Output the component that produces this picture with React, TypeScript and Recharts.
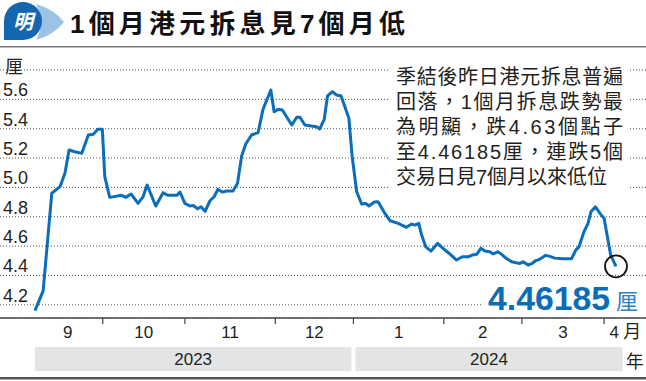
import { LineChart, Line, XAxis, YAxis, CartesianGrid, ReferenceDot } from 'recharts';

// trading-day position (0 = first fixing shown) and 1-month HIBOR (%)
const dayPos = [
  0, 2, 4.1, 6.1, 7.3, 8.3, 9.7, 11.4, 13, 14.2,
  15.3, 16.4, 17, 18.2, 21.1, 22.1, 23.4, 25.1, 26.3, 27.3,
  29.4, 31.2, 32.3, 34.5, 35.3, 36.5, 37.7, 38.5, 39.6, 40.4,
  41.4, 42.6, 43.6, 44.5, 45.6, 46.6, 48.2, 49.3, 50.3, 51.3,
  52.7, 54.3, 55.5, 57.4, 58.2, 59.2, 60.2, 62.5, 63.7, 64.5,
  65.7, 67.3, 68.5, 69.3, 70.4, 71.2, 72.4, 73.4, 74.5, 76.4,
  77.2, 78.3, 79.5, 80.5, 81.3, 82.6, 83.5, 85, 86.4, 88.4,
  90.4, 91.7, 92.5, 93.4, 94.1, 95.1, 96.4, 98, 99.3, 101,
  102.6, 104, 105.4, 106.4, 107.5, 108.5, 109.5, 110.7, 111.5, 112.6,
  113.5, 114.4, 116, 118, 118.8, 120, 120.9, 121.8, 122.5, 123.1,
  124.3, 125.3, 126.5, 128.5, 130.6, 131.6, 132.4, 133.6, 134.6, 135.3,
  136.4, 137.5, 138.5, 140.1, 141.4,
];
const hibor = [
  4.16, 4.295, 4.96, 5.005, 5.096, 5.255, 5.243, 5.232, 5.357, 5.362,
  5.396, 5.396, 5.073, 4.932, 4.946, 4.932, 4.955, 4.891, 4.936, 5.016,
  4.873, 4.964, 4.946, 4.946, 4.968, 4.891, 4.873, 4.876, 4.855, 4.868,
  4.837, 4.909, 4.936, 4.987, 4.968, 4.975, 4.975, 5.028, 5.214, 5.296,
  5.357, 5.373, 5.532, 5.664, 5.516, 5.532, 5.527, 5.425, 5.478, 5.478,
  5.425, 5.418, 5.414, 5.398, 5.464, 5.623, 5.652, 5.63, 5.623, 5.471,
  5.209, 4.97, 4.887, 4.891, 4.873, 4.9, 4.902, 4.83, 4.773, 4.755,
  4.728, 4.75, 4.743, 4.755, 4.675, 4.595, 4.566, 4.619, 4.585, 4.546,
  4.505, 4.527, 4.527, 4.539, 4.544, 4.585, 4.566, 4.561, 4.546, 4.561,
  4.546, 4.523, 4.493, 4.482, 4.493, 4.471, 4.48, 4.5, 4.506, 4.516,
  4.537, 4.53, 4.518, 4.514, 4.514, 4.573, 4.595, 4.698, 4.755, 4.834,
  4.868, 4.823, 4.789, 4.539, 4.46185,
];

const monthLabels = ['9', '10', '11', '12', '1', '2', '3', '4'];
const monthDays = [17, 20, 22, 19, 22, 19, 20, 5];
const yearLabels = ['2023', '2024'];
const yearMonthCount = [4, 4];
const yTicks = [4.2, 4.4, 4.6, 4.8, 5.0, 5.2, 5.4, 5.6];

const title = '1個月港元拆息見7個月低';
const noteLines = [
  '季結後昨日港元拆息普遍',
  '回落，1個月拆息跌勢最',
  '為明顯，跌4.63個點子',
  '至4.46185厘，連跌5個',
  '交易日見7個月以來低位',
];
const latestLabel = '4.46185';

const W = 646;
const H = 381;
const BLUE = '#0a6ebd';
const INK = '#231f20';
const FONT = '"Liberation Sans", Arial, "Noto Sans CJK TC", sans-serif';
const X_DOMAIN: [number, number] = [-8.5, 148.7];
const Y_DOMAIN: [number, number] = [4.11, 5.8];
const PX_PER_DAY = W / (X_DOMAIN[1] - X_DOMAIN[0]);

const data = dayPos.map((d, i) => ({ day: d, rate: hibor[i] }));

const monthStart = monthDays.reduce<number[]>((acc, n) => {
  acc.push(acc[acc.length - 1] + n);
  return acc;
}, [-0.5]);
const boundaryTicks = monthStart.slice(1, monthLabels.length);
const monthMid = monthLabels.map((_, i) => (monthStart[i] + monthStart[i + 1]) / 2);
const yearSpans = yearLabels.map((_, i) => {
  const m0 = yearMonthCount.slice(0, i).reduce((a, b) => a + b, 0);
  return [monthStart[m0], monthStart[m0 + yearMonthCount[i]]];
});
const yearMid = yearSpans.map(([a, b]) => (a + b) / 2);

const tickInfo = new Map<number, { kind: string; i: number }>();
boundaryTicks.forEach((v, i) => tickInfo.set(v, { kind: 'edge', i }));
monthMid.forEach((v, i) => tickInfo.set(v, { kind: 'month', i }));
yearMid.forEach((v, i) => tickInfo.set(v, { kind: 'year', i }));
const xTicks = [...boundaryTicks, ...monthMid, ...yearMid];

const XTick = (props: any) => {
  const { x, y, payload } = props;
  const info = tickInfo.get(payload.value);
  if (!info) return null;
  if (info.kind === 'edge') {
    return <line x1={x} x2={x} y1={y} y2={y + 6} stroke="#444" strokeWidth={1.2} />;
  }
  if (info.kind === 'month') {
    const last = info.i === monthLabels.length - 1;
    return (
      <g fontFamily={FONT} fontSize={17} fill={INK}>
        <text x={x} y={y + 20} textAnchor="middle">{monthLabels[info.i]}</text>
        {last && <text x={x + 9} y={y + 20} fontSize={18}>月</text>}
      </g>
    );
  }
  const [a, b] = yearSpans[info.i];
  const w = (b - a) * PX_PER_DAY - 4;
  const last = info.i === yearLabels.length - 1;
  return (
    <g fontFamily={FONT} fill={INK}>
      <rect x={x - w / 2} y={y + 29} width={w} height={24} fill="#e3e4e6" />
      <text x={x} y={y + 47} textAnchor="middle" fontSize={17}>{yearLabels[info.i]}</text>
      {last && <text x={x + w / 2 + 3} y={y + 50} fontSize={18}>年</text>}
    </g>
  );
};

const YTick = (props: any) => {
  const { x, y, payload } = props;
  return (
    <text x={x + 3} y={y - 3} fontFamily={FONT} fontSize={18} fill={INK} textAnchor="start">
      {Number(payload.value).toFixed(1)}
    </text>
  );
};

export default function App() {
  return (
    <div style={{ position: 'absolute', left: 0, top: 0, width: W, height: H, background: '#fff' }}>
      <LineChart width={W} height={H} data={data} margin={{ top: 70, right: 0, bottom: 0, left: 0 }}>
        <CartesianGrid vertical={false} stroke="#555" strokeDasharray="1 2" />
        <XAxis
          dataKey="day"
          type="number"
          domain={X_DOMAIN}
          allowDataOverflow
          ticks={xTicks}
          interval={0}
          tickSize={0}
          tickMargin={0}
          tickLine={false}
          axisLine={{ stroke: '#4a4a4a', strokeWidth: 1.5 }}
          height={63}
          tick={XTick}
        />
        <YAxis
          type="number"
          domain={Y_DOMAIN}
          allowDataOverflow
          ticks={yTicks}
          interval={0}
          mirror
          width={40}
          tickSize={0}
          tickMargin={0}
          axisLine={false}
          tickLine={false}
          tick={YTick}
        />
        <Line
          type="linear"
          dataKey="rate"
          stroke={BLUE}
          strokeWidth={3}
          strokeLinejoin="round"
          dot={false}
          isAnimationActive={false}
        />
        <ReferenceDot
          x={dayPos[dayPos.length - 1]}
          y={hibor[hibor.length - 1]}
          r={11}
          fill="none"
          stroke="#111"
          strokeWidth={1.8}
        />
      </LineChart>
      <svg
        width={W}
        height={H}
        style={{ position: 'absolute', left: 0, top: 0, pointerEvents: 'none' }}
        fontFamily={FONT}
      >
        {/* header badge */}
        <path d="M36 4 Q54 9 64 22 Q54 35 36 40 Q46 22 36 4 Z" fill="#9cc3e6" />
        <circle cx={23} cy={21} r={19} fill="#1566b0" />
        <rect x={4} y={21} width={19} height={19} fill="#1566b0" />
        <text x={23} y={29} textAnchor="middle" fontSize={20} fontWeight={700} fill="#fff" fontStyle="italic">明</text>
        <text x={70} y={33} fontSize={26} fontWeight={700} fill="#111" textLength={335} lengthAdjust="spacing">{title}</text>
        <rect x={0} y={46} width={W} height={1.5} fill="#777" />
        <text x={5} y={73} fontSize={18} fill={INK}>厘</text>

        {/* note */}
        <rect x={390} y={60} width={240} height={131} fill="#fff" />
        {noteLines.map((t, i) => (
          <text
            key={i}
            x={396}
            y={83.5 + i * 25}
            fontSize={20}
            fill={INK}
            textLength={i < noteLines.length - 1 ? 227 : undefined}
            lengthAdjust="spacing"
          >
            {t}
          </text>
        ))}

        {/* latest value */}
        <rect x={482} y={282} width={164} height={32} fill="#fff" />
        <text x={488} y={310} fontSize={33} fontWeight={700} fill="#0b6cb8" textLength={122} lengthAdjust="spacingAndGlyphs">{latestLabel}</text>
        <text x={616} y={309} fontSize={22} fill="#2f80c4">厘</text>

        <rect x={0} y={377} width={W} height={2.5} fill="#555" />
      </svg>
    </div>
  );
}
